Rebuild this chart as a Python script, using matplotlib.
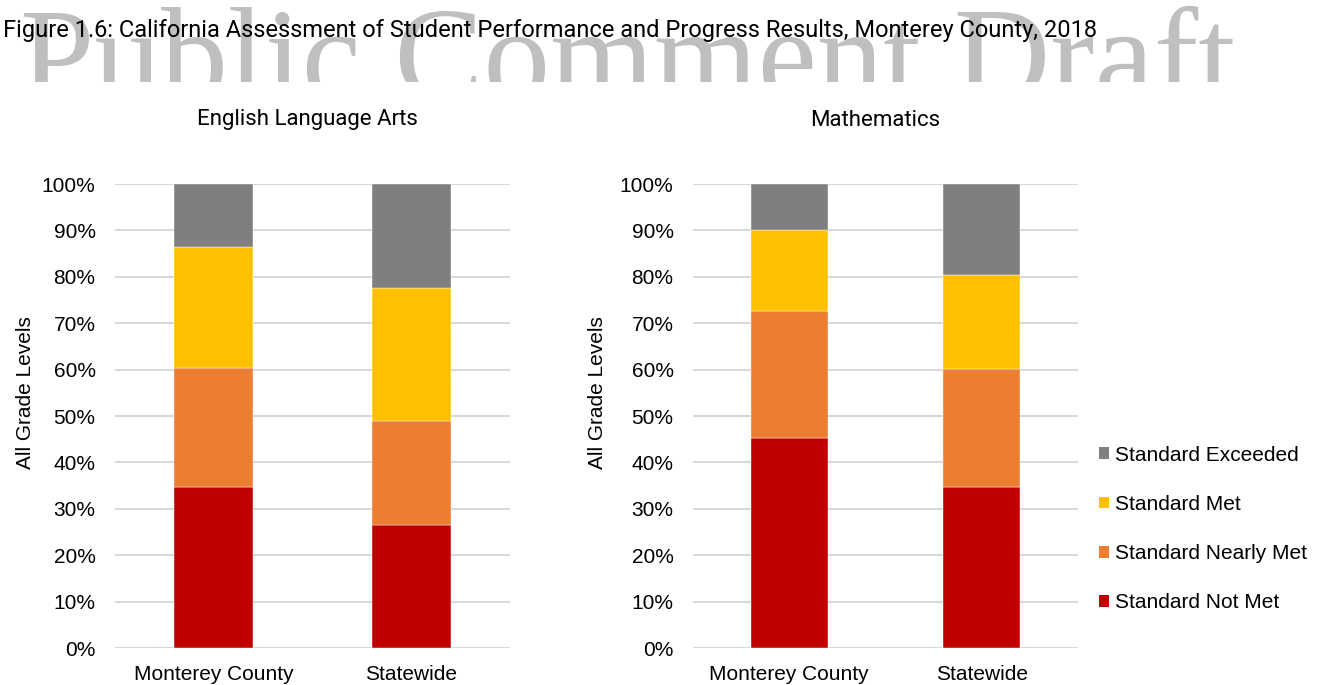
import matplotlib
matplotlib.use('Agg')
import matplotlib.pyplot as plt
from matplotlib.patches import Rectangle, Patch

# CAASPP results, percent of students at each level
categories = ['Monterey County', 'Statewide']
levels = ['Standard Not Met', 'Standard Nearly Met', 'Standard Met', 'Standard Exceeded']
level_colors = ['#c00000', '#ed7d31', '#ffc000', '#7f7f7f']

ela_not_met = [34.8, 26.5]
ela_nearly_met = [25.6, 22.4]
ela_met = [26.0, 28.7]
ela_exceeded = [13.6, 22.4]

math_not_met = [45.2, 34.8]
math_nearly_met = [27.4, 25.4]
math_met = [17.5, 20.1]
math_exceeded = [9.9, 19.7]

yticks = list(range(0, 101, 10))
ytick_labels = [f'{t}%' for t in yticks]

W, H = 1328, 685
fig = plt.figure(figsize=(W / 100, H / 100), dpi=100)

# watermark, bottom part hidden behind the white chart area
fig.text(20 / W, 1 - 100 / H, 'Public Comment Draft', fontsize=96,
         family='Liberation Serif', color='#bfbfbf', va='baseline', ha='left', zorder=-3)
fig.patches.append(Rectangle((0, 0), 1, 1 - 82 / H, transform=fig.transFigure,
                             facecolor='white', edgecolor='none', zorder=-2))

fig.text(3 / W, 1 - 31 / H,
         'Figure 1.6: California Assessment of Student Performance and Progress Results, Monterey County, 2018',
         fontsize=17, family='Roboto', color='black', va='center', ha='left', zorder=5)


def draw_panel(ax, title, title_x, series, ylab_x):
    x = range(len(categories))
    bottom = [0] * len(categories)
    for vals, lab, col in zip(series, levels, level_colors):
        ax.bar(x, vals, width=0.4, bottom=bottom, color=col, label=lab,
               edgecolor='white', linewidth=0.3, zorder=3)
        bottom = [b + v for b, v in zip(bottom, vals)]
    ax.set_xlim(-0.5, 1.5)
    ax.set_ylim(0, 100)
    ax.set_yticks(yticks)
    ax.set_yticklabels(ytick_labels)
    ax.set_xticks(list(x))
    ax.set_xticklabels(categories)
    ax.tick_params(axis='both', length=0, labelsize=15)
    ax.tick_params(axis='y', pad=14)
    ax.tick_params(axis='x', pad=12)
    for lab in ax.get_xticklabels() + ax.get_yticklabels():
        lab.set_family('Liberation Sans')
    ax.grid(axis='y', color='#d9d9d9', linewidth=1.5, zorder=0)
    for s in ax.spines.values():
        s.set_visible(False)
    ax.set_ylabel('All Grade Levels', fontsize=15, family='Liberation Sans')
    ax.yaxis.label.set_va('baseline')
    ax.yaxis.set_label_coords(ylab_x, 0.5506)
    fig.text(title_x / W, 1 - 120 / H, title, ha='center', va='center',
             fontsize=16, family='Roboto')


bot = 1 - 648 / H
hgt = 464 / H
ax1 = fig.add_axes([115 / W, bot, 395 / W, hgt])
ax2 = fig.add_axes([693 / W, bot, 385 / W, hgt])

draw_panel(ax1, 'English Language Arts', 307,
           [ela_not_met, ela_nearly_met, ela_met, ela_exceeded], (31 - 115) / 395)
draw_panel(ax2, 'Mathematics', 875,
           [math_not_met, math_nearly_met, math_met, math_exceeded], (603 - 693) / 385)

handles = [Patch(facecolor=c, edgecolor='none') for c in level_colors][::-1]
fig.legend(handles, levels[::-1], loc='center left', bbox_to_anchor=(1080 / W, 1 - 529 / H),
           frameon=False, prop={'family': 'Liberation Sans', 'size': 15},
           handlelength=0.5, handleheight=0.5, handletextpad=0.3, labelspacing=1.45)

fig.savefig('out.png', dpi=100)
